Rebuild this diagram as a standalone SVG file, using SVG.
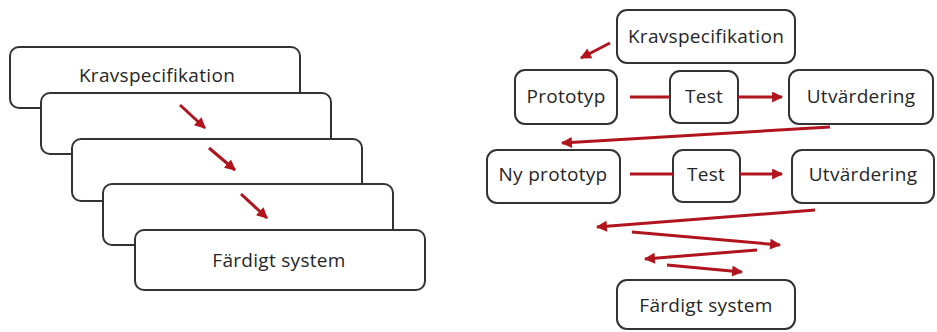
<svg xmlns="http://www.w3.org/2000/svg" width="937" height="332" viewBox="0 0 937 332">
  <style>
    .box { fill: #ffffff; stroke: #333333; stroke-width: 2; }
    .lbl { font-family: "Open Sans", "Liberation Sans", sans-serif; font-size: 19px; letter-spacing: 0.3px; fill: #262626; text-anchor: middle; }
    .flow { stroke: #b0141c; stroke-width: 3; fill: none; }
    .arr { marker-end: url(#head); }
  </style>
  <defs>
    <marker id="head" viewBox="0 0 10 10" refX="9" refY="5" markerWidth="13" markerHeight="11" markerUnits="userSpaceOnUse" orient="auto">
      <path d="M0,0 L10,5 L0,10 z" fill="#b0141c"/>
    </marker>
  </defs>
  <rect width="937" height="332" fill="#ffffff"/>

  <!-- Waterfall: stacked phases -->
  <g id="w-krav">
    <rect class="box" x="10" y="47" width="290" height="61" rx="9"/>
    <text class="lbl" x="157" y="82">Kravspecifikation</text>
  </g>
  <g id="w-step2">
    <rect class="box" x="41" y="93" width="290" height="61" rx="9"/>
  </g>
  <g id="w-step3">
    <rect class="box" x="72" y="139" width="290" height="62" rx="9"/>
  </g>
  <g id="w-step4">
    <rect class="box" x="103" y="184" width="290" height="61" rx="9"/>
  </g>
  <g id="w-fardigt">
    <rect class="box" x="135" y="230" width="290" height="60" rx="9"/>
    <text class="lbl" x="279" y="267">Färdigt system</text>
  </g>

  <!-- Prototyping: iterative flow -->
  <g id="p-krav">
    <rect class="box" x="617" y="10" width="178" height="53" rx="10"/>
    <text class="lbl" x="706" y="43">Kravspecifikation</text>
  </g>
  <g id="p-prototyp">
    <rect class="box" x="515" y="70" width="102" height="54" rx="10"/>
    <text class="lbl" x="566" y="103">Prototyp</text>
  </g>
  <g id="p-test1">
    <rect class="box" x="670" y="71" width="68" height="52" rx="10"/>
    <text class="lbl" x="704" y="103">Test</text>
  </g>
  <g id="p-utv1">
    <rect class="box" x="789" y="70" width="144" height="54" rx="10"/>
    <text class="lbl" x="861" y="103">Utvärdering</text>
  </g>
  <g id="p-ny">
    <rect class="box" x="487" y="150" width="133" height="53" rx="10"/>
    <text class="lbl" x="553" y="181">Ny prototyp</text>
  </g>
  <g id="p-test2">
    <rect class="box" x="673" y="150" width="67" height="52" rx="10"/>
    <text class="lbl" x="706" y="181">Test</text>
  </g>
  <g id="p-utv2">
    <rect class="box" x="792" y="150" width="142" height="53" rx="10"/>
    <text class="lbl" x="863" y="181">Utvärdering</text>
  </g>
  <g id="p-fardigt">
    <rect class="box" x="617" y="280" width="178" height="49" rx="10"/>
    <text class="lbl" x="706" y="312">Färdigt system</text>
  </g>

  <g id="connectors">
    <!-- waterfall steps -->
    <line class="flow arr" x1="180" y1="105" x2="205" y2="128"/>
    <line class="flow arr" x1="209" y1="148" x2="235" y2="170"/>
    <line class="flow arr" x1="241" y1="194" x2="267" y2="218"/>
    <!-- prototyping loop -->
    <line class="flow arr" x1="610" y1="43" x2="581" y2="58"/>
    <line class="flow" x1="630" y1="97" x2="670" y2="97"/>
    <line class="flow arr" x1="738" y1="97" x2="782" y2="97"/>
    <line class="flow arr" x1="830" y1="127" x2="562" y2="143"/>
    <line class="flow" x1="630" y1="174" x2="673" y2="174"/>
    <line class="flow arr" x1="740" y1="174" x2="782" y2="174"/>
    <line class="flow arr" x1="815" y1="210" x2="597" y2="227"/>
    <line class="flow arr" x1="632" y1="232" x2="780" y2="245"/>
    <line class="flow arr" x1="757" y1="250" x2="645" y2="259"/>
    <line class="flow arr" x1="667" y1="265" x2="742" y2="272"/>
  </g>
</svg>
